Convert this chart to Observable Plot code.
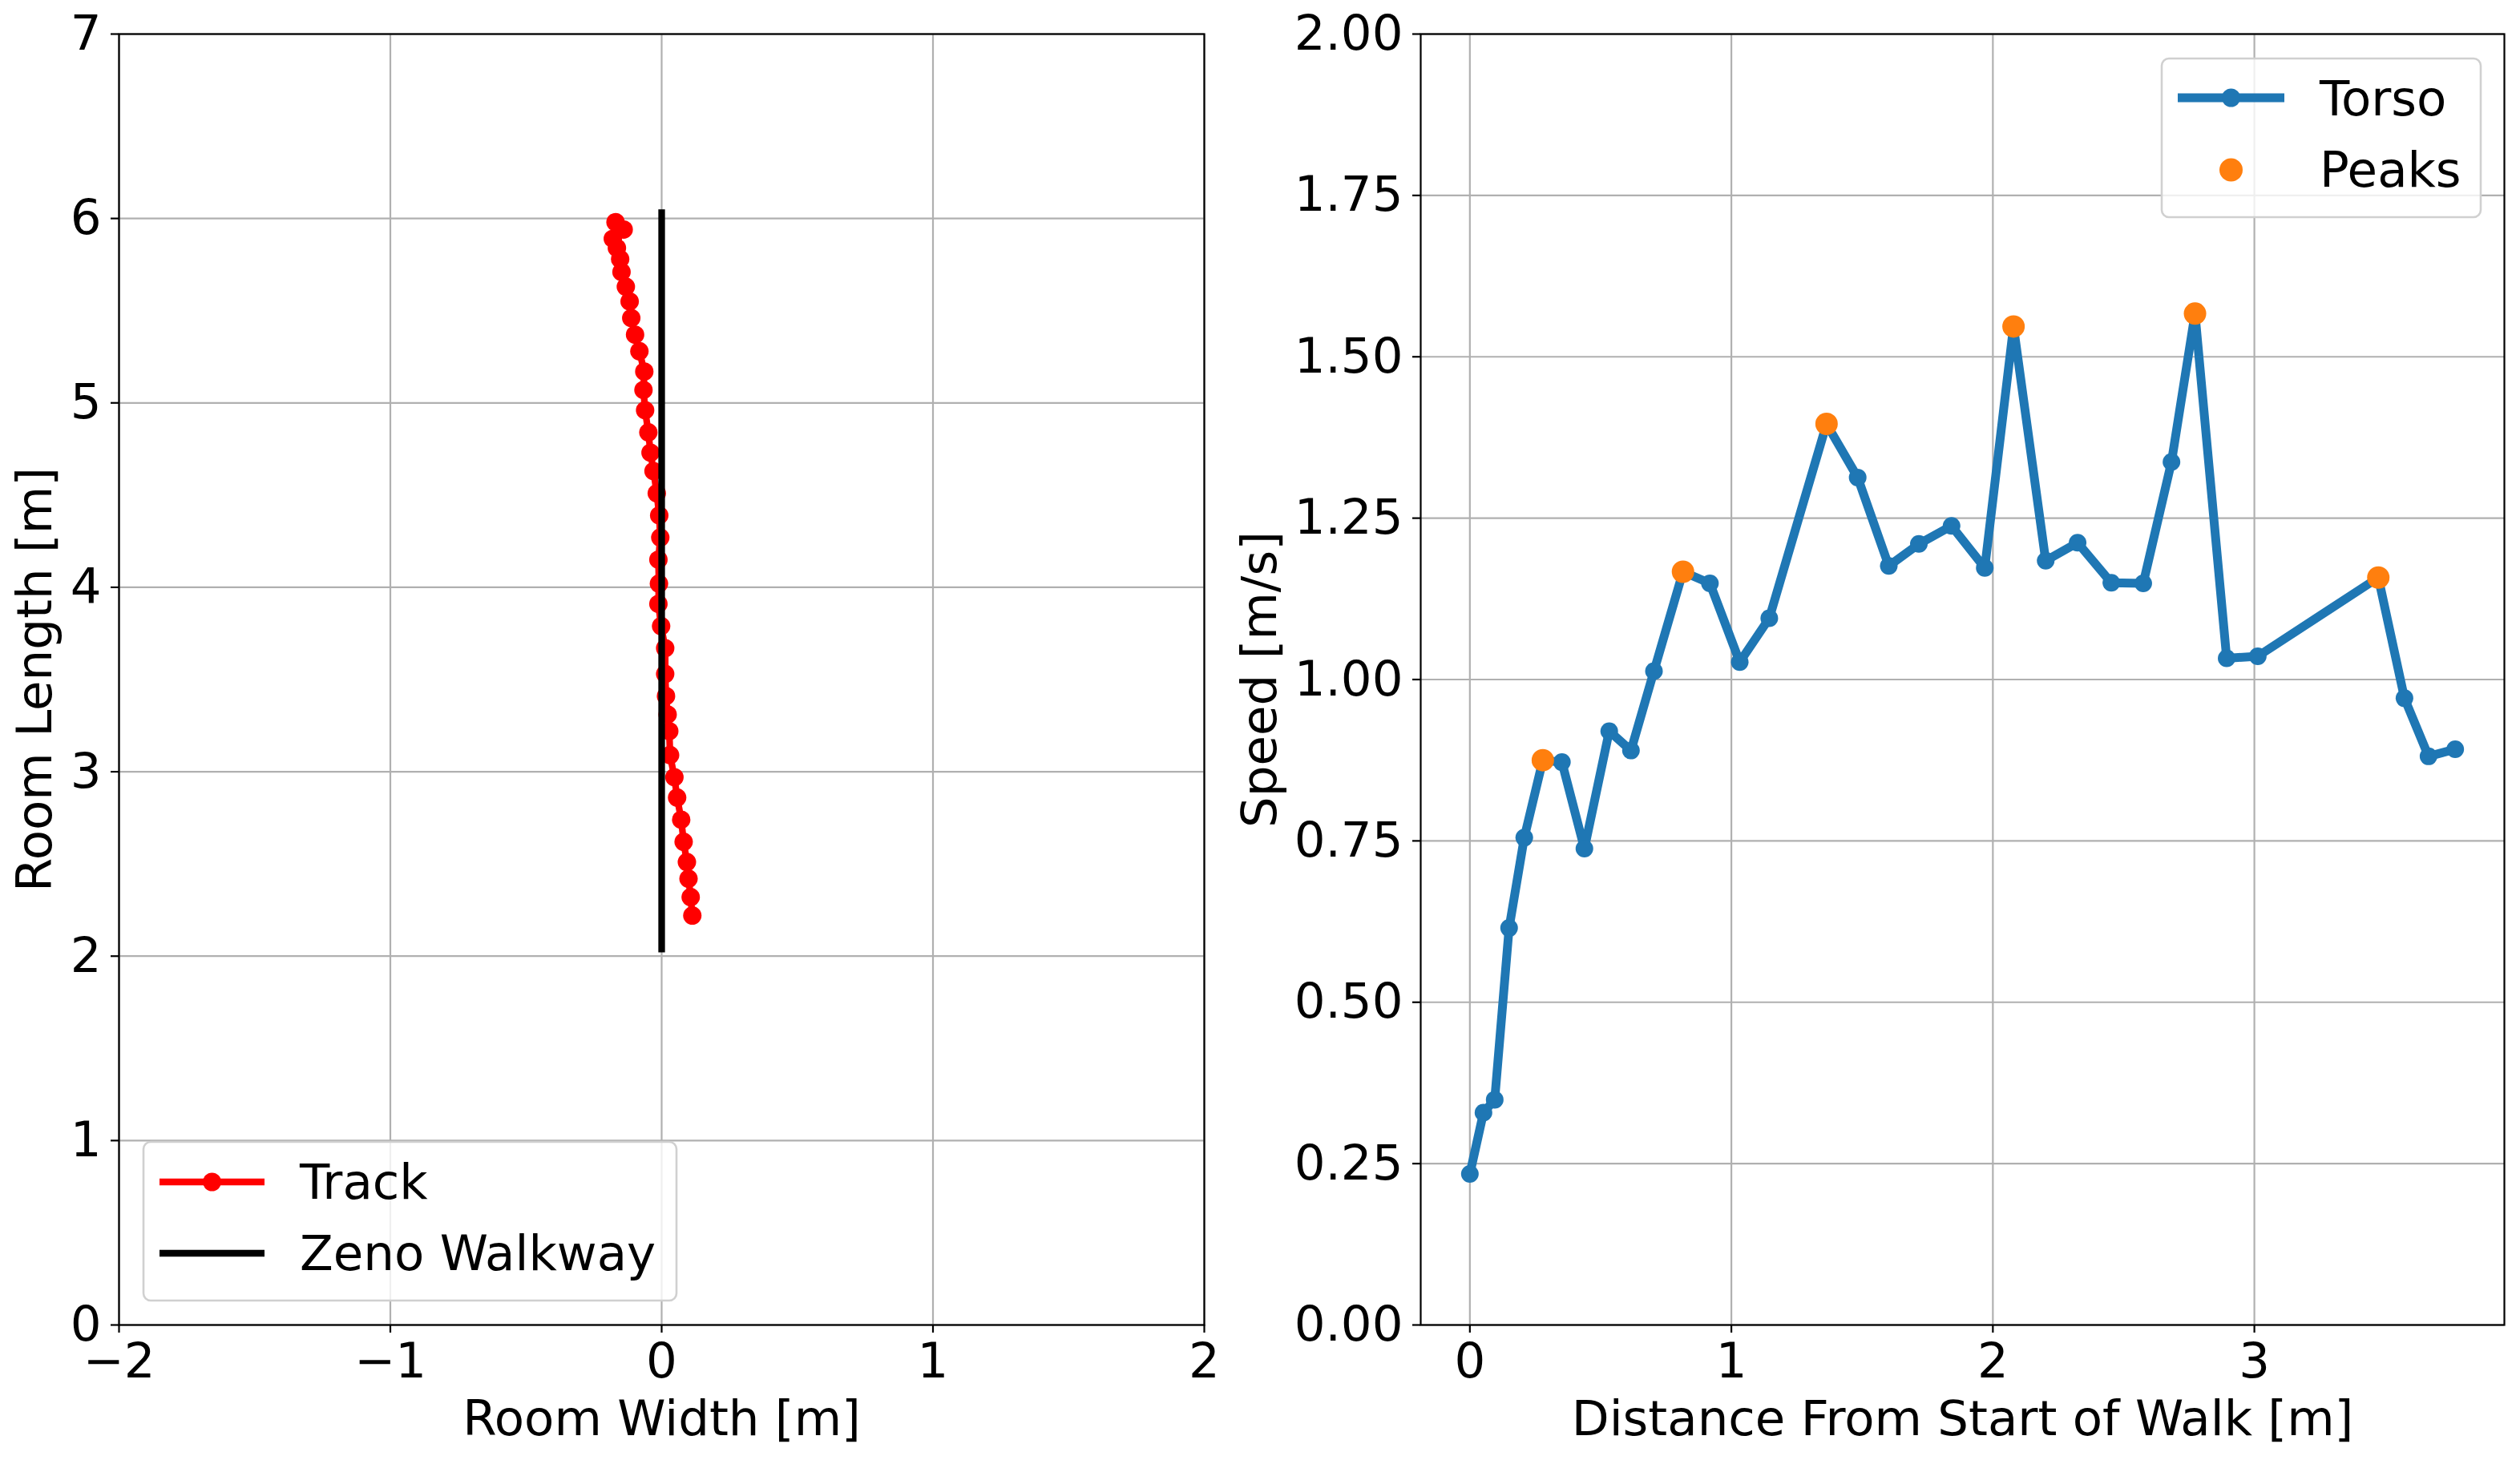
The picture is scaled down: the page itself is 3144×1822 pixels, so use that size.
<!DOCTYPE html>
<html>
<head>
<meta charset="utf-8">
<script src="https://cdn.jsdelivr.net/npm/d3@7"></script>
<script src="https://cdn.jsdelivr.net/npm/@observablehq/plot@0.6"></script>
<style>
  html, body { margin: 0; padding: 0; background: white; }
  #wrap { position: relative; width: 3144px; height: 1822px; background: white; font-family: "DejaVu Sans", sans-serif; }
  #wrap > .panel { position: absolute; top: 0; }
  #legend { position: absolute; left: 0; top: 0; pointer-events: none; }
</style>
</head>
<body>
<div id="wrap"></div>
<script>
// ---------- Data: left panel (track in the room) ----------
const trackX = [-0.17, -0.14, -0.18, -0.165, -0.153, -0.148, -0.132, -0.118, -0.112, -0.098, -0.082, -0.064, -0.067, -0.061, -0.049, -0.041, -0.03, -0.018, -0.009, -0.005, -0.012, -0.01, -0.012, -0.002, 0.013, 0.013, 0.016, 0.022, 0.028, 0.031, 0.047, 0.057, 0.072, 0.081, 0.093, 0.099, 0.107, 0.113];
const trackY = [5.98, 5.94, 5.89, 5.84, 5.78, 5.71, 5.63, 5.55, 5.46, 5.37, 5.28, 5.17, 5.07, 4.96, 4.84, 4.73, 4.63, 4.51, 4.39, 4.27, 4.15, 4.02, 3.91, 3.79, 3.67, 3.53, 3.41, 3.31, 3.22, 3.09, 2.97, 2.86, 2.74, 2.62, 2.51, 2.42, 2.32, 2.22];
const walkwayX = [0, 0];
const walkwayY = [2.02, 6.05];
const leftXTicks = [-2, -1, 0, 1, 2];
const leftYTicks = [0, 1, 2, 3, 4, 5, 6, 7];

// ---------- Data: right panel (torso speed) ----------
const distance = [0, 0.052, 0.095, 0.150, 0.208, 0.279, 0.352, 0.438, 0.533, 0.616, 0.704, 0.815, 0.918, 1.032, 1.145, 1.364, 1.483, 1.602, 1.717, 1.842, 1.969, 2.079, 2.202, 2.324, 2.453, 2.575, 2.683, 2.773, 2.894, 3.013, 3.474, 3.574, 3.666, 3.768];
const speed = [0.234, 0.329, 0.349, 0.615, 0.755, 0.875, 0.872, 0.738, 0.920, 0.890, 1.013, 1.167, 1.149, 1.027, 1.095, 1.396, 1.313, 1.176, 1.210, 1.238, 1.173, 1.547, 1.184, 1.212, 1.150, 1.149, 1.337, 1.567, 1.033, 1.036, 1.158, 0.971, 0.881, 0.892];
const peakIndex = [5, 11, 15, 21, 27, 30];
const rightXTicks = [0, 1, 2, 3];
const rightYTicks = [0, 0.25, 0.5, 0.75, 1.0, 1.25, 1.5, 1.75, 2.0];

// ---------- Tables ----------
const track = trackX.map((x, i) => ({x, y: trackY[i]}));
const walkway = walkwayX.map((x, i) => ({x, y: walkwayY[i]}));
const torso = distance.map((d, i) => ({d, v: speed[i]}));
const peaks = peakIndex.map(i => ({d: distance[i], v: speed[i]}));

const FONT = 61;
const GRID = {stroke: "#b0b0b0", strokeOpacity: 1, strokeWidth: 2.2};
const minus = d => (d < 0 ? "\u2212" + Math.abs(d) : String(d));
const style = {fontFamily: "DejaVu Sans, sans-serif", fontSize: FONT + "px", color: "black", background: "transparent", overflow: "visible"};

const H = 1822;

// Left panel
const left = Plot.plot({
  width: 1540, height: H,
  marginLeft: 148, marginRight: 38, marginTop: 42, marginBottom: 169,
  style,
  x: {domain: [-2, 2]},
  y: {domain: [0, 7]},
  marks: [
    Plot.gridX(leftXTicks, GRID),
    Plot.gridY(leftYTicks, GRID),
    Plot.line(track, {x: "x", y: "y", stroke: "#ff0000", strokeWidth: 8.3}),
    Plot.dot(track, {x: "x", y: "y", r: 11.5, fill: "#ff0000"}),
    Plot.line(walkway, {x: "x", y: "y", stroke: "black", strokeWidth: 8.3, strokeLinecap: "butt"}),
    Plot.frame({stroke: "black", strokeWidth: 2.2}),
    Plot.axisX(leftXTicks, {tickSize: 10, tickPadding: 12, strokeWidth: 2.2, fontSize: FONT, tickFormat: minus,
      label: "Room Width [m]", labelAnchor: "center", labelArrow: "none", labelOffset: 137}),
    Plot.axisY(leftYTicks, {tickSize: 10, tickPadding: 12, strokeWidth: 2.2, fontSize: FONT, tickFormat: minus,
      label: "Room Length [m]", labelAnchor: "center", labelArrow: "none", labelOffset: 128})
  ]
});
left.classList.add("panel");
left.style.left = "0px";

// Right panel
const right = Plot.plot({
  width: 1604, height: H,
  marginLeft: 232, marginRight: 20, marginTop: 42, marginBottom: 169,
  style,
  x: {domain: [-0.188, 3.956]},
  y: {domain: [0, 2]},
  marks: [
    Plot.gridX(rightXTicks, GRID),
    Plot.gridY(rightYTicks, GRID),
    Plot.line(torso, {x: "d", y: "v", stroke: "#1f77b4", strokeWidth: 11}),
    Plot.dot(torso, {x: "d", y: "v", r: 11, fill: "#1f77b4"}),
    Plot.dot(peaks, {x: "d", y: "v", r: 14, fill: "#ff7f0e"}),
    Plot.frame({stroke: "black", strokeWidth: 2.2}),
    Plot.axisX(rightXTicks, {tickSize: 10, tickPadding: 12, strokeWidth: 2.2, fontSize: FONT, tickFormat: d => String(d),
      label: "Distance From Start of Walk [m]", labelAnchor: "center", labelArrow: "none", labelOffset: 137}),
    Plot.axisY(rightYTicks, {tickSize: 10, tickPadding: 12, strokeWidth: 2.2, fontSize: FONT, tickFormat: d3.format(".2f"),
      label: "Speed [m/s]", labelAnchor: "center", labelArrow: "none", labelOffset: 224})
  ]
});
right.classList.add("panel");
right.style.left = "1540px";

const wrap = document.getElementById("wrap");
wrap.appendChild(left);
wrap.appendChild(right);

// ---------- Legends ----------
const leftLegendLabels = ["Track", "Zeno Walkway"];
const rightLegendLabels = ["Torso", "Peaks"];
const NS = "http://www.w3.org/2000/svg";
const leg = d3.create("svg").attr("id", "legend").attr("width", 3144).attr("height", 1822)
  .attr("xmlns", NS).style("font-family", "DejaVu Sans, sans-serif").style("font-size", FONT + "px");

function box(g, x0, y0, x1, y1) {
  g.append("rect").attr("x", x0).attr("y", y0).attr("width", x1 - x0).attr("height", y1 - y0)
    .attr("rx", 9).attr("fill", "rgba(255,255,255,0.8)").attr("stroke", "#d0d0d0").attr("stroke-width", 2.6);
}
// left legend
{
  const g = leg.append("g");
  box(g, 179, 1425, 844, 1623);
  g.append("line").attr("x1", 199).attr("x2", 330).attr("y1", 1475).attr("y2", 1475).attr("stroke", "#ff0000").attr("stroke-width", 8.3);
  g.append("circle").attr("cx", 264.5).attr("cy", 1475).attr("r", 11.5).attr("fill", "#ff0000");
  g.append("line").attr("x1", 199).attr("x2", 330).attr("y1", 1564).attr("y2", 1564).attr("stroke", "black").attr("stroke-width", 8.3);
  g.append("text").attr("x", 374).attr("y", 1496).text(leftLegendLabels[0]);
  g.append("text").attr("x", 374).attr("y", 1585).text(leftLegendLabels[1]);
}
// right legend
{
  const g = leg.append("g");
  box(g, 2697, 73, 3095, 271);
  g.append("line").attr("x1", 2717).attr("x2", 2850).attr("y1", 122).attr("y2", 122).attr("stroke", "#1f77b4").attr("stroke-width", 11);
  g.append("circle").attr("cx", 2783.5).attr("cy", 122).attr("r", 11.5).attr("fill", "#1f77b4");
  g.append("circle").attr("cx", 2783.5).attr("cy", 212).attr("r", 14.5).attr("fill", "#ff7f0e");
  g.append("text").attr("x", 2894).attr("y", 144).text(rightLegendLabels[0]);
  g.append("text").attr("x", 2894).attr("y", 233).text(rightLegendLabels[1]);
}
wrap.appendChild(leg.node());
</script>
</body>
</html>
